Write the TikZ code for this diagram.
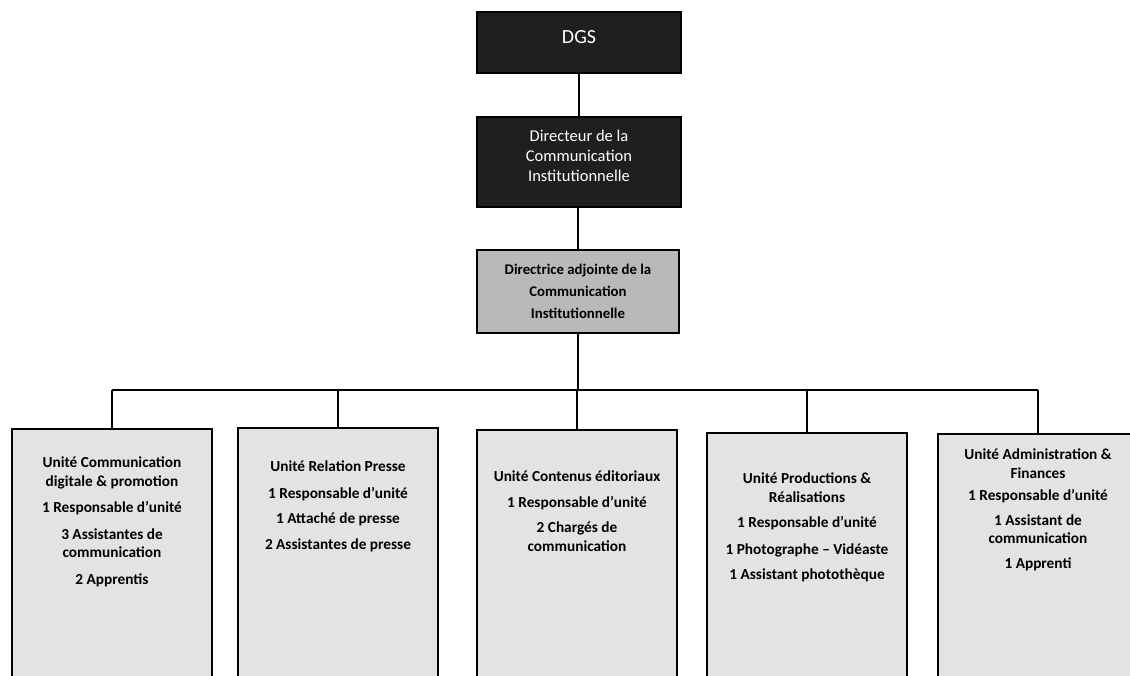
\documentclass[tikz,border=0pt]{standalone}
\usepackage{fontspec}
\setmainfont{Carlito}
\usetikzlibrary{positioning}

\begin{document}
\begin{tikzpicture}[
		x=1pt, y=-1pt,
		darkbox/.style={draw=black, line width=1.5pt, fill=black!88, text=white, align=center,
			minimum width=204pt, inner sep=0pt, font=\fontsize{16.5}{20}\selectfont},
		greybox/.style={draw=black, line width=2pt, fill=gray!55, text=black, align=center,
			minimum width=202pt, inner sep=0pt, font=\bfseries\fontsize{14.8}{22}\selectfont},
		unitbox/.style={draw=black, line width=1.6pt, fill=gray!22, anchor=north,
			minimum width=200pt, minimum height=262pt, inner sep=0pt},
		unittext/.style={anchor=north, align=center, inner sep=0pt,
			font=\bfseries\fontsize{15.3}{18.5}\selectfont},
		link/.style={draw=black, line width=1.2pt}
		]
		\clip (0,0) rectangle (1130,675);
		
		% --- Direction ---
		\node[darkbox, minimum height=61pt, text depth=11pt, font=\fontsize{20}{22}\selectfont] (dgs) at (579,42.5) {DGS};
		\node[darkbox, minimum height=90pt, text depth=12pt] (dir) at (579,162) {Directeur de la\\Communication\\Institutionnelle};
		\node[greybox, minimum height=83pt] (adj) at (578,291.5) {Directrice adjointe de la\\Communication\\Institutionnelle};
		
		% --- Units ---
		\node[unitbox] (u1) at (112,428) {};
		\node[unitbox] (u2) at (338,427) {};
		\node[unitbox] (u3) at (577,429) {};
		\node[unitbox] (u4) at (807,432) {};
		\node[unitbox] (u5) at (1038,433) {};
		
		\node[unittext, below=29pt of u1.north] (t1) {Unité Communication\\digitale \& promotion\\[8pt]
			1 Responsable d’unité\\[8pt] 3 Assistantes de\\communication\\[8pt] 2 Apprentis};
		\node[unittext, below=34pt of u2.north] (t2) {Unité Relation Presse\\[8pt]
			1 Responsable d’unité\\[7pt] 1 Attaché de presse\\[7pt] 2 Assistantes de presse};
		\node[unittext, below=42pt of u3.north] (t3) {Unité Contenus éditoriaux\\[7pt]
			1 Responsable d’unité\\[7pt] 2 Chargés de\\communication};
		\node[unittext, below=41pt of u4.north] (t4) {Unité Productions \&\\Réalisations\\[7pt]
			1 Responsable d’unité\\[8pt] 1 Photographe – Vidéaste\\[7pt] 1 Assistant photothèque};
		\node[unittext, below=16pt of u5.north] (t5) {Unité Administration \&\\Finances\\[4pt]
			1 Responsable d’unité\\[6pt] 1 Assistant de\\communication\\[6pt] 1 Apprenti};
		
		% --- Connectors ---
		\coordinate (bus) at (578,390);
		\draw[link] (dgs) -- (dir);
		\draw[link] (dir.south -| adj) -- (adj);
		\draw[link] (adj) -- (bus);
		\draw[link] (u1.north |- bus) -- (u5.north |- bus);
		\foreach \u in {u1,u2,u3,u4,u5}
		\draw[link] (\u.north |- bus) -- (\u.north);
		
	\end{tikzpicture}
\end{document}
